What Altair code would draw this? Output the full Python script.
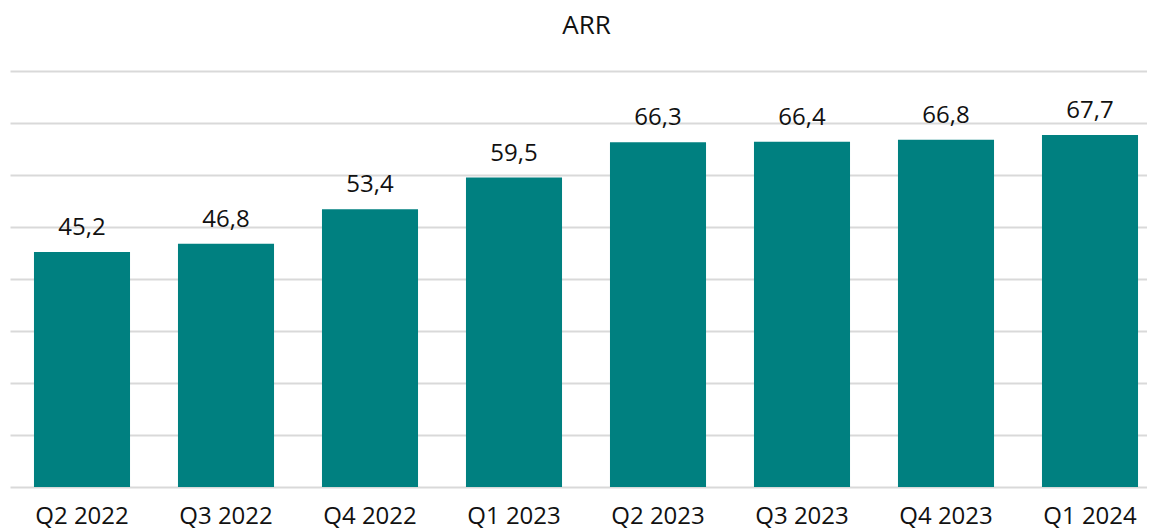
import altair as alt
import pandas as pd

quarters = ["Q2 2022", "Q3 2022", "Q4 2022", "Q1 2023", "Q2 2023", "Q3 2023", "Q4 2023", "Q1 2024"]
arr = [45.2, 46.8, 53.4, 59.5, 66.3, 66.4, 66.8, 67.7]
labels = [f"{v:.1f}".replace(".", ",") for v in arr]

df = pd.DataFrame({"q": quarters, "v": arr, "lab": labels})

FONT = "Open Sans"

x = alt.X("q:N", sort=quarters, title=None,
          scale=alt.Scale(paddingInner=0.333, paddingOuter=0.1665, range=[0, 1152]),
          axis=alt.Axis(labelAngle=0, labelFontSize=24, labelColor="#111111", labelFont=FONT,
                        ticks=False, domain=False, labelPadding=17, grid=False))
y = alt.Y("v:Q", title=None, scale=alt.Scale(domain=[0, 80], nice=False),
          axis=alt.Axis(values=[0, 10, 20, 30, 40, 50, 60, 70, 80], labels=False, ticks=False,
                        domain=False, grid=True, gridColor="#d9d9d9", gridWidth=2))

bars = alt.Chart(df).mark_bar(color="#008080").encode(x=x, y=y)
text = alt.Chart(df).mark_text(baseline="alphabetic", dy=-17, fontSize=24, font=FONT, color="#111111").encode(
    x=alt.X("q:N", sort=quarters), y="v:Q", text="lab:N")

chart = (bars + text).properties(
    width=1137, height=416,
    title=alt.TitleParams("ARR", fontSize=26, font=FONT, fontWeight="normal", color="#111111",
                          offset=32, anchor="middle", dx=8),
    autosize=alt.AutoSizeParams(type="none"),
    padding={"left": 2, "top": 63, "right": 0, "bottom": 50},
).configure_view(stroke=None)

chart.save("out.html", embed_options={"renderer": "svg", "actions": False})
